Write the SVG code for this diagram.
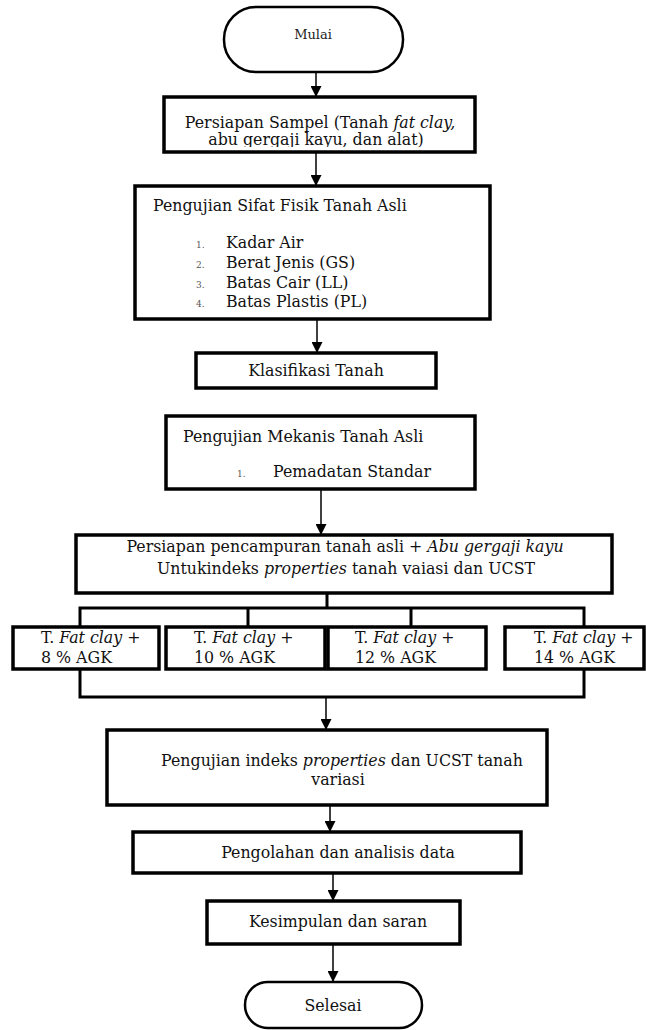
<svg xmlns="http://www.w3.org/2000/svg" width="646" height="1030" viewBox="0 0 646 1030">
<style>
.box{fill:#fff;stroke:#000;stroke-width:3.5}
.term{fill:#fff;stroke:#000;stroke-width:2.5}
.t{font-family:"DejaVu Serif","Liberation Serif",serif;font-size:15.8px;fill:#111}
.c{text-anchor:middle}
.num{font-family:"DejaVu Serif","Liberation Serif",serif;font-size:9px;fill:#555}
.i{font-style:italic}
.ln{fill:none;stroke:#000;stroke-width:1.5}
.br{fill:none;stroke:#000;stroke-width:3}
</style>
<defs>
<marker id="ah" markerWidth="11" markerHeight="11" refX="10" refY="5" orient="auto" markerUnits="userSpaceOnUse" viewBox="0 0 10 10">
<path d="M0,0 L10,5 L0,10 Z" fill="#000"/>
</marker>
<clipPath id="clip1"><rect x="164" y="97" width="311" height="50"/></clipPath>
</defs>
<g id="connectors">
<line class="ln" x1="316" y1="72" x2="316" y2="97" marker-end="url(#ah)"/>
<line class="ln" x1="316" y1="152" x2="316" y2="186" marker-end="url(#ah)"/>
<line class="ln" x1="317" y1="319" x2="317" y2="353" marker-end="url(#ah)"/>
<line class="ln" x1="321" y1="489" x2="321" y2="535" marker-end="url(#ah)"/>
<path class="br" d="M327,593 V608 M80,627 V608 H584 V627 M248,608 V627 M411,608 V627"/>
<path class="br" d="M80,669 V697 H584 V669"/>
<line class="ln" x1="326" y1="697" x2="326" y2="730" marker-end="url(#ah)"/>
<line class="ln" x1="330" y1="805" x2="330" y2="832" marker-end="url(#ah)"/>
<line class="ln" x1="333" y1="873" x2="333" y2="901" marker-end="url(#ah)"/>
<line class="ln" x1="333" y1="944" x2="333" y2="982" marker-end="url(#ah)"/>
</g>
<g id="mulai">
<rect class="term" x="224" y="7" width="179" height="65" rx="32" ry="32"/>
<text class="t c" x="313" y="39" style="font-size:13px;fill:#222">Mulai</text>
</g>
<g id="persiapan-sampel">
<rect class="box" x="164" y="97" width="311" height="55"/>
<text class="t c" x="320" y="128">Persiapan Sampel (Tanah <tspan class="i">fat clay,</tspan></text>
<text class="t c" x="316" y="145" clip-path="url(#clip1)">abu gergaji kayu, dan alat)</text>
</g>
<g id="sifat-fisik">
<rect class="box" x="135" y="186" width="355" height="133"/>
<text class="t" x="153" y="211">Pengujian Sifat Fisik Tanah Asli</text>
<text class="num" x="196" y="248">1.</text>
<text class="num" x="196" y="268">2.</text>
<text class="num" x="196" y="288">3.</text>
<text class="num" x="196" y="307">4.</text>
<text class="t" x="226" y="248">Kadar Air</text>
<text class="t" x="226" y="268">Berat Jenis (GS)</text>
<text class="t" x="226" y="288">Batas Cair (LL)</text>
<text class="t" x="226" y="307">Batas Plastis (PL)</text>
</g>
<g id="klasifikasi">
<rect class="box" x="196" y="353" width="240" height="35"/>
<text class="t c" x="316" y="376">Klasifikasi Tanah</text>
</g>
<g id="mekanis">
<rect class="box" x="166" y="416" width="309" height="73"/>
<text class="t" x="183" y="442">Pengujian Mekanis Tanah Asli</text>
<text class="num" x="237" y="477">1.</text>
<text class="t" x="273" y="477">Pemadatan Standar</text>
</g>
<g id="pencampuran">
<rect class="box" x="76" y="535" width="536" height="58"/>
<text class="t c" x="345" y="552">Persiapan pencampuran tanah asli + <tspan class="i">Abu gergaji kayu</tspan></text>
<text class="t c" x="346" y="574">Untukindeks <tspan class="i">properties</tspan> tanah vaiasi dan UCST</text>
</g>
<g id="v8">
<rect class="box" x="13" y="627" width="146" height="42"/>
<text class="t" x="41" y="643">T. <tspan class="i">Fat clay</tspan> +</text>
<text class="t" x="41" y="663">8 % AGK</text>
</g>
<g id="v10">
<rect class="box" x="166" y="627" width="159" height="42"/>
<text class="t" x="194" y="643">T. <tspan class="i">Fat clay</tspan> +</text>
<text class="t" x="194" y="663">10 % AGK</text>
</g>
<g id="v12">
<rect class="box" x="328" y="627" width="158" height="42"/>
<text class="t" x="355" y="643">T. <tspan class="i">Fat clay</tspan> +</text>
<text class="t" x="355" y="663">12 % AGK</text>
</g>
<g id="v14">
<rect class="box" x="505" y="627" width="139" height="42"/>
<text class="t" x="534" y="643">T. <tspan class="i">Fat clay</tspan> +</text>
<text class="t" x="534" y="663">14 % AGK</text>
</g>
<g id="pengujian-indeks">
<rect class="box" x="107" y="730" width="440" height="75"/>
<text class="t c" x="342" y="766">Pengujian indeks <tspan class="i">properties</tspan> dan UCST tanah</text>
<text class="t c" x="338" y="785">variasi</text>
</g>
<g id="pengolahan">
<rect class="box" x="133" y="832" width="388" height="41"/>
<text class="t c" x="338" y="858">Pengolahan dan analisis data</text>
</g>
<g id="kesimpulan">
<rect class="box" x="207" y="901" width="253" height="43"/>
<text class="t c" x="338" y="927">Kesimpulan dan saran</text>
</g>
<g id="selesai">
<rect class="term" x="245" y="982" width="177" height="46" rx="23" ry="23"/>
<text class="t c" x="333" y="1011">Selesai</text>
</g>
</svg>
